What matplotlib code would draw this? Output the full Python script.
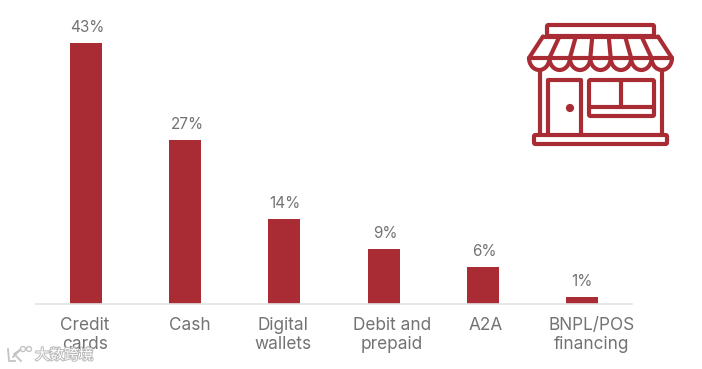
import matplotlib.pyplot as plt
import matplotlib.patheffects as pe
from matplotlib.patches import FancyBboxPatch, Circle, Arc
from matplotlib.transforms import ScaledTranslation

categories = ['Credit\ncards', 'Cash', 'Digital\nwallets', 'Debit and\nprepaid', 'A2A', 'BNPL/POS\nfinancing']
values = [43, 27, 14, 9, 6, 1]

red = '#A92C35'
grey = '#737373'
W, H = 702, 369

plt.rcParams['font.family'] = ['Inter', 'DejaVu Sans']

fig = plt.figure(figsize=(W / 100, H / 100), dpi=100)
ax = fig.add_axes([36 / W, 1 - 303.5 / H, 596 / W, 270 / H])

x = range(len(values))
ax.bar(x, values, width=0.32, color=red)
value_shift = [2, 2, 0.5, 2, 1.5, 0]
for i, v in zip(x, values):
    ax.annotate(f'{v}%', (i, v), xytext=(value_shift[i] * 0.72, 5.8), textcoords='offset points',
                ha='center', va='bottom', fontsize=11, color=grey)

ax.set_xlim(-0.5, 5.5)
ax.set_ylim(0, 44.6)
ax.set_yticks([])
ax.set_xticks(list(x))
ax.set_xticklabels(categories, fontsize=12.4, color=grey, linespacing=1.18)
ax.tick_params(axis='x', length=0, pad=9.6)
# the labels sit a little right of their bars in the original
label_shift = [-1, 5, -1.5, 8, 3, 9.5]
for lab, dx in zip(ax.get_xticklabels(), label_shift):
    lab.set_transform(lab.get_transform() + ScaledTranslation(dx / 100, 0, fig.dpi_scale_trans))
for s in ['top', 'left', 'right']:
    ax.spines[s].set_visible(False)
ax.spines['bottom'].set_color('#E3E3E3')
ax.spines['bottom'].set_linewidth(1.2)

# shop icon, drawn in pixel coordinates of the picture
ic = fig.add_axes([0, 0, 1, 1], facecolor='none')
ic.set_xlim(0, W)
ic.set_ylim(H, 0)
ic.axis('off')
lw = 3.0


def line(xs, ys):
    ic.plot(xs, ys, color=red, lw=lw, solid_capstyle='round', solid_joinstyle='round')


def rbox(x0, y0, x1, y1, r=1.5):
    ic.add_patch(FancyBboxPatch((x0 + r, y0 + r), x1 - x0 - 2 * r, y1 - y0 - 2 * r,
                                boxstyle=f'round,pad={r}', fc='none', ec=red, lw=lw))


rbox(547, 25, 654, 36)
rbox(534, 135, 667, 144)
line([543, 658], [36.5, 36.5])
line([543, 529], [36.5, 58])
line([658, 672], [36.5, 58])
line([529, 672], [58, 58])

# awning ribs and scallops
n = 7
sw = 143 / n
for k in range(n):
    ic.add_patch(Arc((529 + sw * (k + 0.5), 58), sw, 24, theta1=0, theta2=180,
                     color=red, lw=lw))
for k in range(1, n):
    line([543 + 115 / n * k, 529 + sw * k], [36.5, 58])

line([540, 540], [70, 135])
line([662, 662], [70, 135])

line([547.5, 547.5, 581, 581], [135, 80, 80, 135])
ic.add_patch(Circle((570, 108), 3.4, color=red))
rbox(589, 80, 654, 116)
line([589, 654], [106.5, 106.5])
line([621, 621], [80, 106.5])

# watermark
ic.text(35, 355.5, '大数跨境', family=['Noto Sans CJK SC', 'DejaVu Sans'], fontsize=10.5,
        color='white', ha='left', va='center',
        path_effects=[pe.withStroke(linewidth=1.4, foreground='#B8B8B8')])
line_c = '#C4C4C4'
ic.plot([8, 9, 15], [349, 361, 361], color=line_c, lw=1.3)
ic.plot([13, 20, 14, 21], [357, 350, 354, 361], color=line_c, lw=1.3)
for cx in [23, 29]:
    ic.add_patch(Circle((cx, 349), 2.5, fc='none', ec=line_c, lw=1))

fig.savefig('out.png', dpi=100)
